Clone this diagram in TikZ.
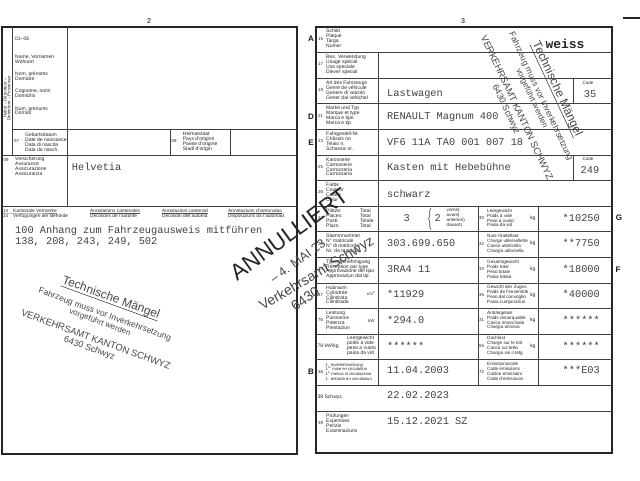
\documentclass[tikz,border=0pt]{standalone}
\usepackage{fontspec}
\setmainfont{Liberation Sans}
\newfontfamily\tw{Liberation Mono}
\usetikzlibrary{decorations.pathreplacing}
\tikzset{
  frm/.style={line width=1.2pt, draw=black!85},
  grd/.style={line width=0.65pt, draw=black!75},
  lab/.style={font=\fontsize{5}{4.9}\selectfont, align=left, inner sep=0pt, anchor=west, text=black!85},
  labm/.style={lab, font=\fontsize{4.6}{4.9}\selectfont},
  labs/.style={lab, font=\fontsize{4.2}{4.7}\selectfont},
  hdr/.style={lab, font=\fontsize{4.8}{4.8}\selectfont},
  nr/.style={font=\fontsize{4.4}{5}\selectfont, inner sep=0pt, anchor=west, text=black!85},
  val/.style={font=\tw\fontsize{10.3}{11}\selectfont, inner sep=0pt, anchor=mid west, text=black!75},
  valr/.style={val, anchor=mid east},
  valc/.style={val, anchor=mid},
  sec/.style={font=\bfseries\fontsize{8}{8}\selectfont, inner sep=0pt, text=black!90},
  pg/.style={font=\fontsize{7}{7}\selectfont, inner sep=0pt},
  stp/.style={inner sep=0pt, transform shape, text=black!72},
  stpline/.style={line width=0.6pt, draw=black!72},
  uline/.style={line width=0.35pt, draw=black!70}
}
\newcommand{\mstamp}[4]{%
\begin{scope}[shift={(#2,#3)}, rotate=#4]
\node[stp, font=\fontsize{12}{12}\selectfont] (#1a) at (0,0) {Technische Mängel};
\draw[stpline] (#1a.south west) -- (#1a.south east);
\node[stp, font=\fontsize{8.5}{8.5}\selectfont] (#1b) at (0,18) {Fahrzeug muss vor Inverkehrsetzung};
\node[stp, font=\fontsize{8}{8}\selectfont] (#1c) at (-2,27) {vorgeführt werden};
\node[stp, font=\fontsize{9.5}{9.5}\selectfont] (#1d) at (0,44) {VERKEHRSAMT KANTON SCHWYZ};
\node[stp, font=\fontsize{9}{9}\selectfont] (#1e) at (-3,55) {6430 Schwyz};
\end{scope}}
\begin{document}
\begin{tikzpicture}[x=1pt,y=-1pt]
\useasboundingbox (0,0) rectangle (640,480);
\fill[white] (0,0) rectangle (640,480);

% page numbers
\node[pg] (p2) at (149,21) {2};
\node[pg] (p3) at (463,21) {3};
\draw[line width=1.3pt, black!85] (623,18) -- (640,18);

% ---------- left panel ----------
\draw[frm] (2,27) rectangle (297,454);
\draw[grd] (12,27) -- (12,155);
\draw[grd] (67,27) -- (67,206.2);
\draw[grd] (12,129.4) -- (297,129.4);
\draw[grd] (2,155) -- (297,155);
\draw[grd] (170,129.4) -- (170,155);
\draw[grd] (230,129.4) -- (230,155);
\draw[grd] (2,206.2) -- (297,206.2);

\node[font=\fontsize{4.4}{3.7}\selectfont, rotate=90, align=center, inner sep=0pt, text=black!85] (hal) at (7,98) {Halter – Détenteur –\\Detentore – Possessur};
\node[lab] (l0106) at (15,38.7) {01–06};
\node[lab] (lname) at (15,59.2) {Name, Vornamen\\Wohnort};
\node[lab] (lnom) at (15,75.8) {Nom, prénoms\\Domicile};
\node[lab] (lcog) at (15,93.5) {Cognome, nomi\\Domicilio};
\node[lab] (lnum) at (15,110.8) {Num, prenums\\Domicil};

\node[nr] (n07) at (14,141) {07};
\node[lab] (l07) at (25,142) {Geburtsdatum\\Date de naissance\\Data di nascita\\Data da nasch.};
\node[nr] (n08) at (171.5,141) {08};
\node[lab] (l08) at (182.7,142) {Heimatstaat\\Pays d'origine\\Paese d'origine\\Stadi d'origin};

\node[nr] (n09) at (3.5,159.5) {09};
\node[lab, anchor=north west] (l09) at (15,157) {Versicherung\\Assurance\\Assicurazione\\Assicuranza};
\node[val] (v09) at (71.7,168.3) {Helvetia};

\node[nr] (n13) at (3,211) {13};
\node[hdr] (k1) at (13,211) {Kantonale Vermerke};
\node[hdr] (k2) at (90,211) {Annotations cantonales};
\node[hdr] (k3) at (162,211) {Annotazioni cantonali};
\node[hdr] (k4) at (228,211) {Annotaziuns chantunalas};
\draw[uline] ([yshift=-0.4pt]n13.south west) -- ([yshift=-0.4pt]k1.south east);
\draw[uline] ([yshift=-0.4pt]k2.south west) -- ([yshift=-0.4pt]k2.south east);
\draw[uline] ([yshift=-0.4pt]k3.south west) -- ([yshift=-0.4pt]k3.south east);
\draw[uline] ([yshift=-0.4pt]k4.south west) -- ([yshift=-0.4pt]k4.south east);
\node[nr] (n14) at (3,216) {14};
\node[hdr] (d1) at (13,216) {Verfügungen der Behörde};
\node[hdr] (d2) at (90,216) {Décisions de l'autorité};
\node[hdr] (d3) at (162,216) {Decisioni dell'autorità};
\node[hdr] (d4) at (228,216) {Disposiziuns da l'autoritad};

\node[val] (vr1) at (15,230.7) {100 Anhang zum Fahrzeugausweis mitführen};
\node[val] (vr2) at (15,241.7) {138, 208, 243, 249, 502};

% ---------- right panel ----------
\draw[frm] (316,27) rectangle (612,453);
\foreach \yy in {52.6,78.2,103.8,129.4,155,180.6,206.2,231.8,257.4,283,308.6,334.2,359.8,385.4,411}
  \draw[grd] (316,\yy) -- (612,\yy);
\draw[grd] (378,52.6) -- (378,385.4);
\draw[grd] (573,78.2) -- (573,103.8);
\draw[grd] (573,155) -- (573,180.6);
\draw[grd] (478,206.2) -- (478,385.4);
\draw[grd] (538,206.2) -- (538,385.4);
\draw[grd, decorate, decoration={brace, amplitude=2.5pt}] (431,229.5) -- (431,208);

\node[sec] (sA) at (311,39) {A};
\node[sec] (sD) at (311,116.5) {D};
\node[sec] (sE) at (311,142.5) {E};
\node[sec] (sB) at (311,371.7) {B};
\node[sec] (sG) at (619,218) {G};
\node[sec] (sF) at (618,269.5) {F};

\node[nr] (n15) at (318,38.8) {15};
\node[lab] (t15) at (326,38) {Schild\\Plaque\\Targa\\Numer};
\node[nr] (n17) at (318,64.4) {17};
\node[lab] (t17) at (326,64.4) {Bes. Verwendung\\Usage spécial\\Uso speciale\\Diever special};
\node[nr] (n19) at (318,90) {19};
\node[lab] (t19) at (326,90) {Art des Fahrzeugs\\Genre de véhicule\\Genere di veicolo\\Gener dal vehichel};
\node[nr] (n21) at (318,115.6) {21};
\node[lab] (t21) at (326,115.6) {Marke und Typ\\Marque et type\\Marca e tipo\\Marca e tip};
\node[nr] (n23) at (318,141.2) {23};
\node[lab] (t23) at (326,141.2) {Fahrgestell-Nr.\\Châssis no\\Telaio n.\\Schassis nr.};
\node[nr] (n25) at (318,166.8) {25};
\node[lab] (t25) at (326,166.8) {Karosserie\\Carrosserie\\Carrozzeria\\Carrossaria};
\node[nr] (n26) at (318,192.4) {26};
\node[lab] (t26) at (326,192.4) {Farbe\\Couleur\\Colore\\Colur};
\node[nr] (n27) at (318,218) {27};
\node[lab] (t27) at (326,218) {Plätze:\\Places:\\Posti:\\Plazs:};
\node[lab] (t27b) at (360,218) {Total\\Total\\Totale\\Total};
\node[nr] (n28) at (318,243.6) {28};
\node[lab] (t28) at (326,243.6) {Stammnummer\\N° matricule\\N° di matricola\\Nr. da matricla};
\node[nr] (n24) at (318,269.2) {24};
\node[lab] (t24) at (326,269.2) {Typengenehmigung\\Réception par type\\Approvazione del tipo\\Approvaziun dal tip};
\node[nr] (n37) at (318,294.8) {37};
\node[lab] (t37) at (326,294.8) {Hubraum\\Cylindrée\\Cilindrata\\Cilindrada};
\node[nr] (u37) at (367,293.5) {cm\textsuperscript{3}};
\node[nr] (n76) at (318,320.4) {76};
\node[lab] (t76) at (326,320.4) {Leistung\\Puissance\\Potenza\\Prestaziun};
\node[nr] (u76) at (368,320.4) {kW};
\node[lab] (n78) at (317.5,346) {78 kW/kg};
\node[lab] (t78) at (347,346) {Leergewicht\\poids à vide\\peso a vuoto\\paisa da vid};
\node[nr] (n36) at (318,371.6) {36};
\node[labs] (t36) at (325.5,371.6) {1. Inverkehrsetzung\\1\textsuperscript{re} mise en circulation\\1\textsuperscript{a} messa in circolazione\\1. entrada en circulaziun};
\node[lab] (n38) at (317.5,397.5) {38 Schwyz,};
\node[nr] (n39) at (318,423) {39};
\node[lab, anchor=north west] (t39) at (326,413.5) {Prüfungen\\Expertises\\Perizie\\Examinaziuns};

\node[labm] (tv) at (446.5,218) {vorne)\\avant)\\anteriori)\\davant)};
\node[nr] (n30) at (479,218) {30};
\node[labm] (t30) at (487,218) {Leergewicht\\Poids à vide\\Peso a vuoto\\Paisa da vid};
\node[lab] (k30) at (530,218) {kg};
\node[nr] (n32) at (479,243.6) {32};
\node[labm] (t32) at (487,243.6) {Nutz-/Sattellast\\Charge utile/sellette\\Carico utile/sella\\Chargia utila/sella};
\node[lab] (k32) at (530,243.6) {kg};
\node[nr] (n33) at (479,269.2) {33};
\node[labm] (t33) at (487,269.2) {Gesamtgewicht\\Poids total\\Peso totale\\Paisa totala};
\node[lab] (k33) at (530,269.2) {kg};
\node[nr] (n35) at (479,294.8) {35};
\node[labm] (t35) at (487,294.8) {Gewicht des Zuges\\Poids de l'ensemble\\Peso del convoglio\\Paisa cumposiziun};
\node[lab] (k35) at (530,294.8) {kg};
\node[nr] (n31) at (479,320.4) {31};
\node[labm] (t31) at (487,320.4) {Anhängelast\\Poids remorquable\\Carico rimorchiato\\Chargia annexa};
\node[lab] (k31) at (530,320.4) {kg};
\node[nr] (n55) at (479,346) {55};
\node[labm] (t55) at (487,346) {Dachlast\\Charge sur le toit\\Carico sul tetto\\Chargia sin il tetg};
\node[lab] (k55) at (530,346) {kg};
\node[nr] (n72) at (479,371.6) {72};
\node[labm] (t72) at (487,371.6) {Emissionscode\\Code émissions\\Codice emissioni\\Code d'emissiuns};

\node[nr, anchor=mid] (c19) at (588,82) {Code};
\node[valc] (v19c) at (590,95) {35};
\node[nr, anchor=mid] (c25) at (588,158.3) {Code};
\node[valc] (v25c) at (590,170.7) {249};

\node[font=\tw\bfseries\fontsize{13}{13}\selectfont, inner sep=0pt, text=black!85] (v15) at (565,44.3) {weiss};
\node[val] (v19) at (387,94.3) {Lastwagen};
\node[val] (v21) at (387,117) {RENAULT Magnum 400};
\node[val] (v23) at (387,143) {VF6 11A TA0 001 007 18};
\node[val] (v25) at (387,168.3) {Kasten mit Hebebühne};
\node[val] (v26) at (387,194.5) {schwarz};
\node[valc] (v27a) at (406.7,218.5) {3};
\node[valc] (v27b) at (437.7,218.5) {2};
\node[valr] (v30) at (600,218.5) {*10250};
\node[val] (v28) at (387,244) {303.699.650};
\node[valr] (v32) at (600,244) {**7750};
\node[val] (v24) at (387,269.5) {3RA4 11};
\node[valr] (v33) at (600,269.5) {*18000};
\node[val] (v37) at (387,295.3) {*11929};
\node[valr] (v35) at (600,295.3) {*40000};
\node[val] (v76) at (387,320.8) {*294.0};
\node[valr] (v31) at (600,320.8) {******};
\node[val] (v78) at (387,346.5) {******};
\node[valr] (v55) at (600,346.5) {******};
\node[val] (v36) at (387,370.5) {11.04.2003};
\node[valr] (v72) at (600,370.5) {***E03};
\node[val] (v38) at (387,395.5) {22.02.2023};
\node[val] (v39) at (387,422) {15.12.2021 SZ};

% ---------- stamps ----------
\mstamp{ls}{111}{298}{-20}
\mstamp{rs}{557}{89}{-65}

\begin{scope}[shift={(289,234)}, rotate=36]
\node[stp, text=black!85, font=\fontsize{22.5}{22.5}\selectfont] (an1) at (0,0) {ANNULLIERT};
\node[stp, font=\fontsize{12.5}{12.5}\selectfont] (an2) at (-9,27) {– 4. MAI 23};
\node[stp, rotate=-5, font=\fontsize{14}{14}\selectfont] (an3) at (-1,49) {Verkehrsamt Schwyz};
\node[stp, font=\fontsize{14}{14}\selectfont] (an4) at (-25,62) {6430};
\end{scope}
\end{tikzpicture}
\end{document}
